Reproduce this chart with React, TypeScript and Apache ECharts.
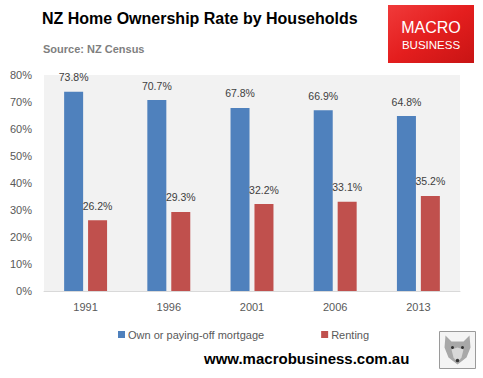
import React, { useEffect, useRef } from "react";
import * as echarts from "echarts";

const categories = ["1991", "1996", "2001", "2006", "2013"];
const ownValues = [73.8, 70.7, 67.8, 66.9, 64.8];
const rentValues = [26.2, 29.3, 32.2, 33.1, 35.2];
const seriesNames = ["Own or paying-off mortgage", "Renting"];
const titleText = "NZ Home Ownership Rate by Households";
const subtitleText = "Source: NZ Census";
const footerText = "www.macrobusiness.com.au";

const FONT = "'Liberation Sans', Arial, sans-serif";

export default function App() {
  const ref = useRef<HTMLDivElement>(null);
  useEffect(() => {
    if (!ref.current) return;
    const chart = echarts.init(ref.current, undefined, { renderer: "svg" });
    const label = {
      show: true,
      position: "top",
      distance: 9,
      formatter: (p: any) => p.value.toFixed(1) + "%",
      color: "#404040",
      fontSize: 10.5,
      fontFamily: FONT,
    };
    chart.setOption({
      animation: false,
      backgroundColor: "#ffffff",
      textStyle: { fontFamily: FONT },
      grid: {
        left: 44,
        right: 23,
        top: 75,
        bottom: 87,
        show: true,
        backgroundColor: "#f2f2f2",
        borderWidth: 0,
      },
      legend: {
        left: 113,
        top: 324,
        icon: "rect",
        itemWidth: 7,
        itemHeight: 7,
        itemGap: 57,
        textStyle: { color: "#595959", fontSize: 11, fontFamily: FONT, padding: [0, 0, 0, -2] },
        data: seriesNames,
      },
      xAxis: {
        type: "category",
        data: categories,
        axisLine: { show: true, lineStyle: { color: "#d9d9d9", width: 1 } },
        axisTick: { show: false },
        axisLabel: { color: "#595959", fontSize: 11, margin: 10, fontFamily: FONT },
      },
      yAxis: {
        type: "value",
        min: 0,
        max: 80,
        interval: 10,
        axisLabel: { formatter: "{value}%", color: "#595959", fontSize: 11, margin: 12, fontFamily: FONT },
        axisLine: { show: false },
        axisTick: { show: false },
        splitLine: { show: false },
      },
      series: [
        {
          name: seriesNames[0],
          type: "bar",
          data: ownValues,
          barWidth: 19,
          barGap: "26%",
          itemStyle: { color: "#4f81bd" },
          label,
        },
        {
          name: seriesNames[1],
          type: "bar",
          data: rentValues,
          barWidth: 19,
          barGap: "26%",
          itemStyle: { color: "#c0504d" },
          label,
        },
      ],
      graphic: [
        {
          type: "text",
          left: 42,
          top: 10,
          style: { text: titleText, fill: "#000000", font: `bold 16px ${FONT}` },
        },
        {
          type: "text",
          left: 43,
          top: 43,
          style: { text: subtitleText, fill: "#7f7f7f", font: `bold 11px ${FONT}` },
        },
        {
          type: "group",
          left: 388,
          top: 5,
          children: [
            {
              type: "rect",
              shape: { x: 0, y: 0, width: 86, height: 58 },
              style: {
                fill: new echarts.graphic.LinearGradient(0, 0, 1, 1, [
                  { offset: 0, color: "#f03a3a" },
                  { offset: 0.5, color: "#e41e1e" },
                  { offset: 1, color: "#c81414" },
                ]),
              },
            },
            {
              type: "text",
              x: 43,
              y: 22,
              style: {
                text: "MACRO",
                fill: "#ffffff",
                font: `16px ${FONT}`,
                align: "center",
                verticalAlign: "middle",
              },
            },
            {
              type: "text",
              x: 43,
              y: 40,
              style: {
                text: "BUSINESS",
                fill: "#ffffff",
                font: `11.5px ${FONT}`,
                align: "center",
                verticalAlign: "middle",
              },
            },
          ],
        },
        {
          type: "text",
          left: 204,
          top: 351,
          style: { text: footerText, fill: "#000000", font: `bold 15px ${FONT}` },
        },
        {
          type: "group",
          left: 439,
          top: 331,
          children: [
            {
              type: "rect",
              shape: { x: 0, y: 0, width: 36, height: 37 },
              style: { fill: "#f4f4f4", stroke: "#9a9a9a", lineWidth: 1 },
            },
            {
              type: "polygon",
              shape: {
                points: [
                  [6, 4], [12, 10], [24, 10], [30, 4], [31, 16], [27, 26], [18, 33], [9, 26], [5, 16],
                ],
              },
              style: { fill: "#a8a8a8" },
            },
            {
              type: "polygon",
              shape: { points: [[12, 18], [18, 16], [24, 18], [22, 26], [18, 31], [14, 26]] },
              style: { fill: "#d8d8d8" },
            },
            { type: "circle", shape: { cx: 13, cy: 16, r: 1.5 }, style: { fill: "#333" } },
            { type: "circle", shape: { cx: 23, cy: 16, r: 1.5 }, style: { fill: "#333" } },
            { type: "circle", shape: { cx: 18, cy: 29, r: 1.8 }, style: { fill: "#333" } },
          ],
        },
      ],
    });
    return () => chart.dispose();
  }, []);
  return (
    <div
      ref={ref}
      style={{ position: "fixed", left: 0, top: 0, width: 483, height: 378 }}
    />
  );
}
